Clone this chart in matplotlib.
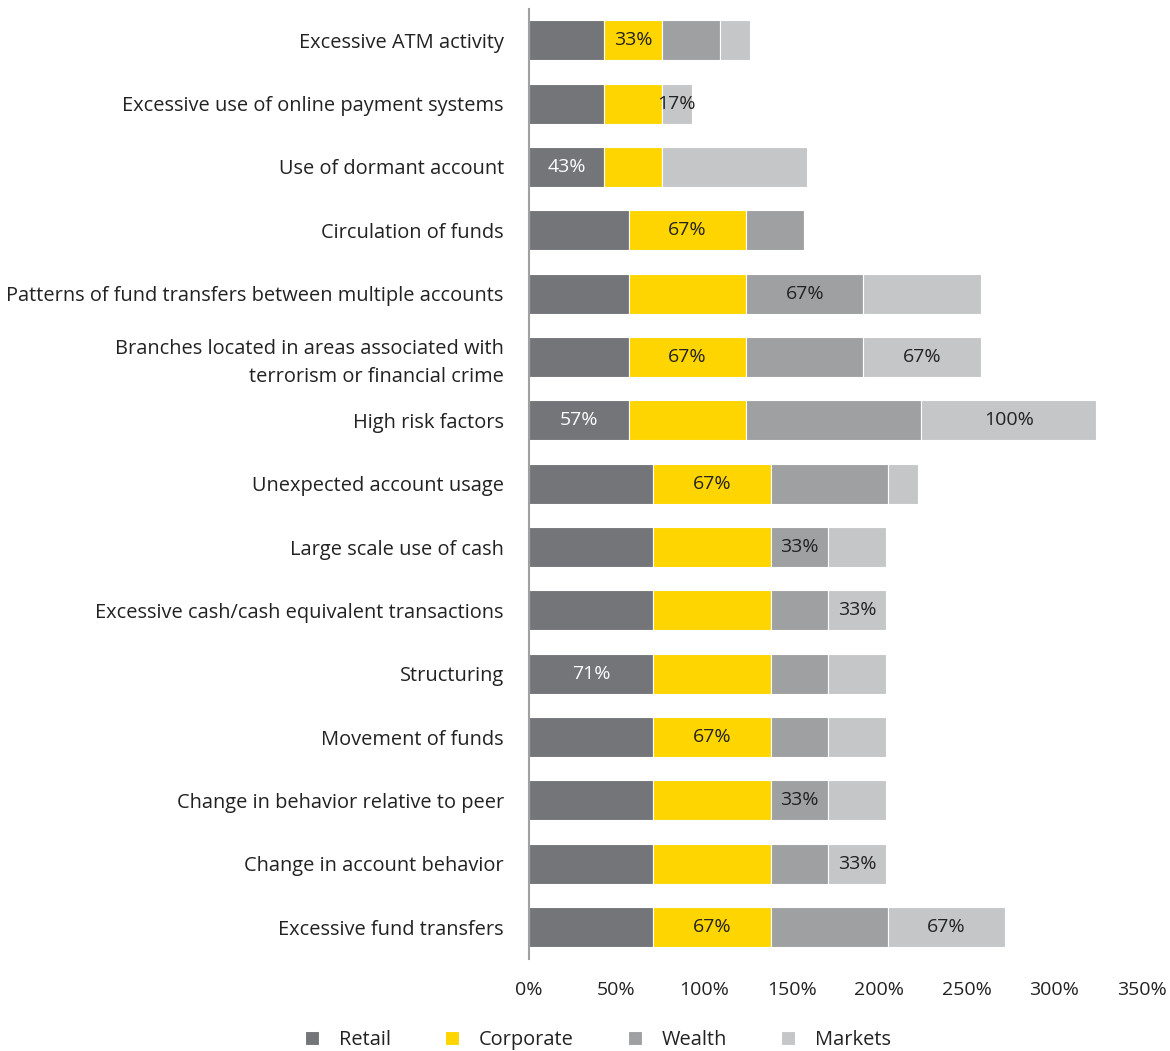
import numpy as np
import matplotlib.pyplot as plt

plt.rcParams['font.family'] = ['Open Sans', 'DejaVu Sans']

# 行为类别（从上到下）
categories = [
    'Excessive ATM activity',
    'Excessive use of online payment systems',
    'Use of dormant account',
    'Circulation of funds',
    'Patterns of fund transfers between multiple accounts',
    'Branches located in areas associated with\nterrorism or financial crime',
    'High risk factors',
    'Unexpected account usage',
    'Large scale use of cash',
    'Excessive cash/cash equivalent transactions',
    'Structuring',
    'Movement of funds',
    'Change in behavior relative to peer',
    'Change in account behavior',
    'Excessive fund transfers',
]

retail    = [43, 43, 43, 57, 57, 57, 57, 71, 71, 71, 71, 71, 71, 71, 71]
corporate = [33, 33, 33, 67, 67, 67, 67, 67, 67, 67, 67, 67, 67, 67, 67]
wealth    = [33, 0, 0, 33, 67, 67, 100, 67, 33, 33, 33, 33, 33, 33, 67]
markets   = [17, 17, 83, 0, 67, 67, 100, 17, 33, 33, 33, 33, 33, 33, 67]

series_names = ['Retail', 'Corporate', 'Wealth', 'Markets']
colors = ['#747578', '#FFD500', '#9FA0A2', '#C5C6C8']

# 每行显示数值标签的分段（行号, 分段号）
shown_labels = [
    (0, 1), (1, 3), (2, 0), (3, 1), (4, 2), (5, 1), (5, 3),
    (6, 0), (6, 3), (7, 1), (8, 2), (9, 3), (10, 0), (11, 1),
    (12, 2), (13, 3), (14, 1), (14, 3),
]

data = np.array([retail, corporate, wealth, markets])
y = np.arange(len(categories))

fig = plt.figure(figsize=(11.7, 10.51), dpi=100)
ax = fig.add_axes([0.452, 0.0878, 0.524, 0.904])

left = np.zeros(len(categories))
for i, name in enumerate(series_names):
    ax.barh(y, data[i], left=left, height=0.63, color=colors[i],
            edgecolor='white', linewidth=0.8, label=name)
    left += data[i]

starts = np.vstack([np.zeros(len(categories)), np.cumsum(data, axis=0)[:-1]])
for row, seg in shown_labels:
    cx = starts[seg, row] + data[seg, row] / 2
    ax.text(cx, row, f'{data[seg, row]}%', ha='center', va='center',
            fontsize=14, color='white' if seg == 0 else '#222222')

ax.set_ylim(len(categories) - 0.5, -0.5)
ax.set_xlim(0, 350)
ax.set_yticks(y)
ax.set_yticklabels(categories, fontsize=14.4, color='#222222', linespacing=1.5)
ax.set_xticks(np.arange(0, 351, 50))
ax.set_xticklabels([f'{v}%' for v in range(0, 351, 50)], fontsize=14, color='#222222')
ax.tick_params(axis='both', length=0)
ax.tick_params(axis='y', pad=18)
ax.tick_params(axis='x', pad=16)

for s in ['top', 'right', 'bottom']:
    ax.spines[s].set_visible(False)
ax.spines['left'].set_color('#A0A0A0')
ax.spines['left'].set_linewidth(1.5)

leg = fig.legend(loc='center', bbox_to_anchor=(0.511, 0.0105), ncol=4,
                 frameon=False, fontsize=14.4, handlelength=0.7,
                 handleheight=0.7, columnspacing=2.7, handletextpad=1.0)
for t in leg.get_texts():
    t.set_color('#222222')

fig.savefig('out.png', dpi=100)
